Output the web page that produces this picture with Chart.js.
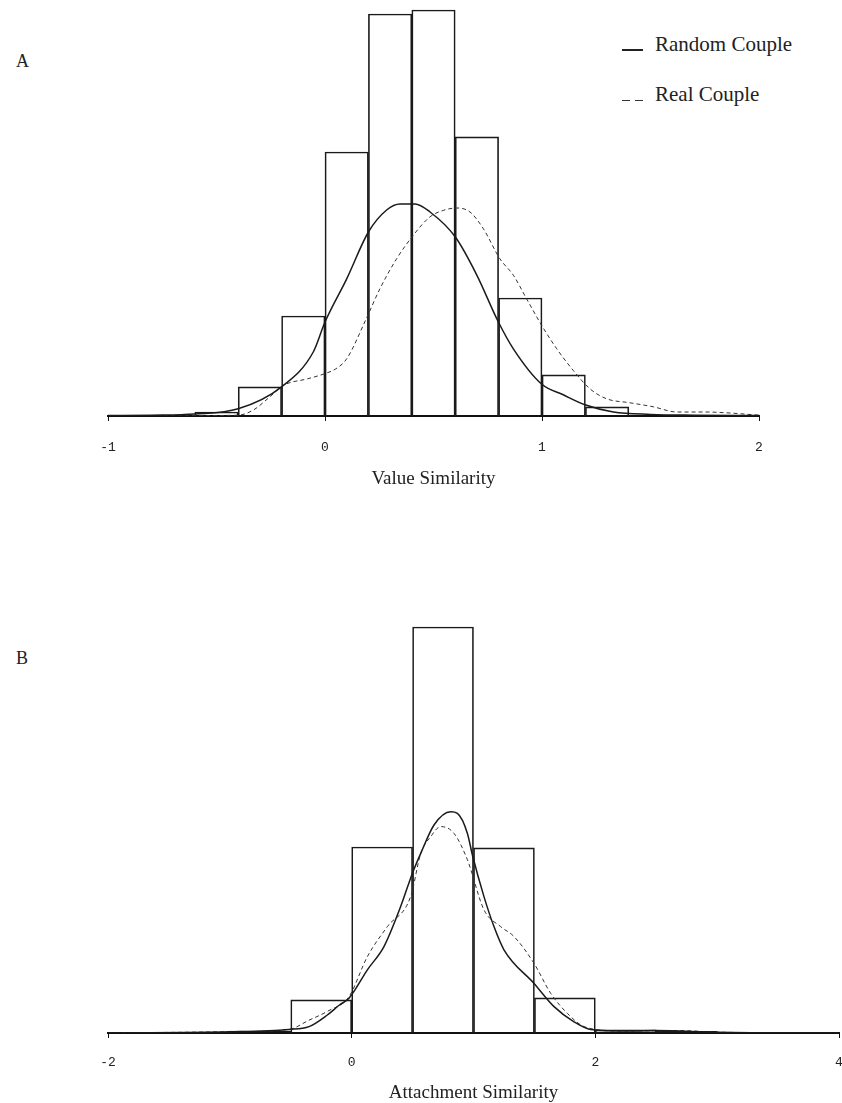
<!DOCTYPE html>
<html lang="en">
<head>
  <meta charset="UTF-8">
  <title>Value and Attachment Similarity</title>
  <style>
    body {
      margin: 0;
      padding: 0;
      background: #fff;
      width: 842px;
      height: 1103px;
      overflow: hidden;
      position: relative;
      font-family: 'Liberation Serif', 'Times New Roman', serif;
      color: #222;
    }
    canvas { position: absolute; left: 0; }
    #chartA { top: 0; }
    #chartB { top: 617px; }
    .panel { position: absolute; left: 16px; font-size: 18px; }
    .legend { position: absolute; left: 622px; font-size: 21px; white-space: nowrap; }
    .legend span.sample {
      display: inline-block;
      width: 21px;
      height: 2px;
      margin-right: 12px;
      vertical-align: baseline;
      background: #222;
    }
    .legend span.dashed {
      height: 1.5px;
      background: linear-gradient(to right, #333 0, #333 8px, transparent 8px, transparent 13px, #333 13px, #333 21px);
    }
  </style>
</head>
<body>

<div class="panel" style="top:51px">A</div>
<div class="panel" style="top:648px">B</div>
<div class="legend" id="legend"></div>

<canvas id="chartA" width="842" height="500"></canvas>
<canvas id="chartB" width="860" height="490"></canvas>

<script src="https://cdn.jsdelivr.net/npm/chart.js"></script>

<script>
  var seriesNames = ['Random Couple', 'Real Couple'];

  // Panel A: value similarity (bin centres, bin width 0.2)
  var valueBins = [-0.5, -0.3, -0.1, 0.1, 0.3, 0.5, 0.7, 0.9, 1.1, 1.3];
  var valueCounts = [1, 7.3, 25, 66, 100.5, 101.5, 69.8, 29.5, 10.3, 2.3];

  var randomValueX = [-1, -0.8, -0.6, -0.4, -0.2, -0.054, 0, 0.1, 0.2, 0.284, 0.346, 0.415, 0.484, 0.6, 0.699, 0.799, 0.868, 0.998, 1.098, 1.198, 1.329, 1.5, 1.7, 2];
  var randomValueY = [0.1, 0.2, 0.5, 1.8, 7.3, 16, 23.5, 34.3, 46, 51.5, 53, 53, 51, 44.8, 35.3, 23.5, 16.8, 8, 5.3, 2.8, 1, 0.4, 0.2, 0.1];

  var realValueX = [-1, -0.6, -0.4, -0.33, -0.26, -0.19, -0.08, 0, 0.05, 0.1, 0.19, 0.253, 0.33, 0.407, 0.484, 0.545, 0.607, 0.668, 0.73, 0.806, 0.868, 0.929, 0.998, 1.068, 1.144, 1.221, 1.298, 1.406, 1.513, 1.621, 1.75, 1.85, 2];
  var realValueY = [0, 0.1, 0.2, 1.5, 4.5, 7.7, 9.3, 10.6, 11.8, 14.3, 24.3, 31.8, 39.3, 45.2, 49.8, 51.4, 52, 51, 46.8, 39.3, 35.2, 29.3, 22.7, 16.8, 11.4, 6.8, 4.3, 3.3, 2.3, 1, 1, 0.8, 0.2];

  var valueTicks = [-1, 0, 1, 2];

  // Panel B: attachment similarity (bin centres, bin width 0.5)
  var attachBins = [-0.75, -0.25, 0.25, 0.75, 1.25, 1.75, 2.25, 2.75];
  var attachCounts = [0.5, 8.3, 46.5, 101.5, 46.3, 8.8, 0.8, 0.4];

  var randomAttachX = [-2, -1, -0.515, -0.35, -0.2, -0.1, -0.022, 0.129, 0.265, 0.402, 0.498, 0.567, 0.676, 0.813, 0.868, 0.95, 0.991, 1.086, 1.168, 1.25, 1.497, 1.661, 1.825, 1.962, 2.3, 2.5, 3, 4];
  var randomAttachY = [0, 0.3, 0.9, 1.6, 4.5, 7, 8.7, 15.8, 21.6, 31.6, 39.9, 44.9, 52, 55.3, 54.9, 49.9, 44.5, 34.1, 26.6, 20.8, 12.4, 6.6, 2.8, 0.9, 0.5, 0.6, 0.2, 0];

  var realAttachX = [-2, -1, -0.515, -0.35, -0.2, -0.022, 0.129, 0.293, 0.484, 0.567, 0.649, 0.731, 0.84, 0.95, 1.086, 1.223, 1.333, 1.497, 1.634, 1.771, 1.908, 2.2, 2.7, 3, 4];
  var realAttachY = [0, 0.3, 0.9, 3.2, 5.4, 9.1, 19.1, 26.6, 34.1, 44.9, 49.1, 51.6, 49.9, 43.3, 30.8, 26.6, 24.1, 17.4, 9.9, 4.9, 1.6, 0.5, 0.6, 0.2, 0];

  var attachTicks = [-2, 0, 2, 4];

  function toPoints(xs, ys) {
    return xs.map(function(x, i) { return { x: x, y: ys[i] }; });
  }

  function makeChart(id, cfg) {
    var ctx = document.getElementById(id).getContext('2d');
    return new Chart(ctx, {
      type: 'line',
      data: {
        datasets: [
          {
            label: seriesNames[0],
            data: toPoints(cfg.randX, cfg.randY),
            borderColor: '#1a1a1a',
            borderWidth: 1.5,
            pointRadius: 0,
            cubicInterpolationMode: 'monotone',
            fill: false,
            order: 0
          },
          {
            label: seriesNames[1],
            data: toPoints(cfg.realX, cfg.realY),
            borderColor: '#333',
            borderWidth: 1,
            borderDash: [4, 3],
            pointRadius: 0,
            cubicInterpolationMode: 'monotone',
            fill: false,
            order: 1
          },
          {
            type: 'bar',
            label: 'Histogram',
            data: toPoints(cfg.bins, cfg.counts),
            backgroundColor: 'rgba(255,255,255,0)',
            borderColor: '#1a1a1a',
            borderWidth: 1,
            barPercentage: 1,
            categoryPercentage: 1,
            order: 2
          }
        ]
      },
      options: {
        responsive: false,
        animation: false,
        layout: { padding: { left: 108, right: cfg.padRight, top: 0, bottom: 0 } },
        plugins: { legend: { display: false }, tooltip: { enabled: false } },
        scales: {
          x: {
            type: 'linear',
            min: cfg.ticks[0],
            max: cfg.ticks[cfg.ticks.length - 1],
            offset: false,
            afterFit: function(scale) { scale.height = cfg.scaleHeight; },
            afterBuildTicks: function(scale) {
              scale.ticks = cfg.ticks.map(function(v) { return { value: v }; });
            },
            border: { display: true, color: '#111', width: 2 },
            grid: { offset: false, drawOnChartArea: false, drawTicks: true, tickLength: 5, color: '#111' },
            ticks: {
              padding: cfg.tickPad,
              color: '#222',
              font: { family: "'Liberation Mono', monospace", size: 13 },
              maxRotation: 0
            },
            title: {
              display: true,
              text: cfg.title,
              color: '#222',
              font: { family: "'Liberation Serif', serif", size: 19 },
              padding: { top: 0, bottom: cfg.titlePad }
            }
          },
          y: { display: false, min: 0, max: 104 }
        }
      }
    });
  }

  makeChart('chartA', {
    bins: valueBins, counts: valueCounts,
    randX: randomValueX, randY: randomValueY,
    realX: realValueX, realY: realValueY,
    ticks: valueTicks, title: 'Value Similarity',
    padRight: 83, scaleHeight: 84, tickPad: 19, titlePad: 10
  });

  makeChart('chartB', {
    bins: attachBins, counts: attachCounts,
    randX: randomAttachX, randY: randomAttachY,
    realX: realAttachX, realY: realAttachY,
    ticks: attachTicks, title: 'Attachment Similarity',
    padRight: 21, scaleHeight: 74, tickPad: 17, titlePad: 3
  });

  // legend in the upper right of panel A
  var legend = document.getElementById('legend');
  seriesNames.forEach(function(name, i) {
    var row = document.createElement('div');
    row.style.position = 'absolute';
    row.style.left = '0px';
    row.style.top = (i === 0 ? 32 : 82) + 'px';
    row.innerHTML = '<span class="sample' + (i === 1 ? ' dashed' : '') + '"></span>' + name;
    legend.appendChild(row);
  });
</script>

</body>
</html>
